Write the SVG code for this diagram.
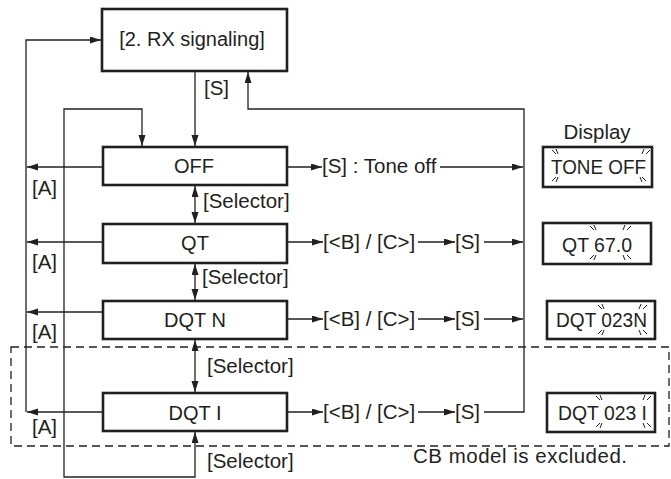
<svg xmlns="http://www.w3.org/2000/svg" width="671" height="479" viewBox="0 0 671 479">
<style>
text{font-family:"Liberation Sans",Arial,Helvetica,sans-serif;fill:#231f20}
.node rect{fill:#fff;stroke:#231f20;stroke-width:2.6}
.nt{font-size:20px;text-anchor:middle}
.lb{font-size:20.5px}
.ln{fill:none;stroke:#231f20;stroke-width:1.3}
.ar{marker-end:url(#ah)}
.da{marker-start:url(#ah);marker-end:url(#ah)}
.disp rect{fill:#fff;stroke:#231f20;stroke-width:2.6}
.dt{font-size:21px}
.bl{fill:none;stroke:#231f20;stroke-width:1}
</style>
<defs>
<marker id="ah" markerUnits="userSpaceOnUse" markerWidth="12" markerHeight="8" refX="11" refY="3.5" orient="auto-start-reverse">
<path d="M0,0 L11,3.5 L0,7 z" fill="#231f20"/>
</marker>
</defs>
<rect x="11" y="347" width="658" height="99" fill="none" stroke="#231f20" stroke-width="1.3" stroke-dasharray="8 5"/>
<g id="connectors">
<path class="ln ar" d="M26,412 V40 H101"/>
<path class="ln ar" d="M102,167 H27"/>
<path class="ln ar" d="M102,242 H27"/>
<path class="ln ar" d="M102,312 H27"/>
<path class="ln ar" d="M102,412 H27"/>
<path class="ln ar" d="M195,71 V146"/>
<path class="ln da" d="M195,432 V477 H64 V109 H142 V146"/>
<path class="ln da" d="M195,186 V223"/>
<path class="ln da" d="M195,264 V300"/>
<path class="ln da" d="M195,340 V392"/>
<path class="ln ar" d="M484,412 H524 V109 H248 V72"/>
<path class="ln ar" d="M288,167 H322"/>
<path class="ln ar" d="M440,167 H523"/>
<path class="ln ar" d="M288,242 H323"/>
<path class="ln ar" d="M418,242 H455"/>
<path class="ln ar" d="M484,242 H523"/>
<path class="ln ar" d="M288,319 H323"/>
<path class="ln ar" d="M418,319 H455"/>
<path class="ln ar" d="M484,319 H523"/>
<path class="ln ar" d="M288,412 H323"/>
<path class="ln ar" d="M418,412 H455"/>
<text class="lb" x="204" y="95">[S]</text>
<text class="lb" x="32" y="195">[A]</text>
<text class="lb" x="32" y="269">[A]</text>
<text class="lb" x="32" y="339">[A]</text>
<text class="lb" x="32" y="434">[A]</text>
<text class="lb" x="203" y="208">[Selector]</text>
<text class="lb" x="202" y="284">[Selector]</text>
<text class="lb" x="207" y="373">[Selector]</text>
<text class="lb" x="207" y="468">[Selector]</text>
<text class="lb" x="322" y="173">[S] : Tone off</text>
<text class="lb" x="323" y="249">[&lt;B] / [C&gt;]</text>
<text class="lb" x="455" y="249">[S]</text>
<text class="lb" x="323" y="326">[&lt;B] / [C&gt;]</text>
<text class="lb" x="455" y="326">[S]</text>
<text class="lb" x="323" y="419">[&lt;B] / [C&gt;]</text>
<text class="lb" x="455" y="419">[S]</text>
</g>
<g id="n-rx" class="node"><rect x="102" y="9" width="185" height="62"/><text class="nt" x="192" y="46">[2. RX signaling]</text></g>
<g id="n-off" class="node"><rect x="103" y="147" width="184" height="38"/><text class="nt" x="194" y="173">OFF</text></g>
<g id="n-qt" class="node"><rect x="103" y="224" width="184" height="39"/><text class="nt" x="195" y="250">QT</text></g>
<g id="n-dqtn" class="node"><rect x="103" y="301" width="184" height="38"/><text class="nt" x="195" y="327">DQT N</text></g>
<g id="n-dqti" class="node"><rect x="103" y="393" width="184" height="38"/><text class="nt" x="195" y="420">DQT I</text></g>
<text class="lb" x="597" y="139" text-anchor="middle">Display</text>
<g id="d-toneoff" class="disp"><rect x="543" y="147" width="109" height="40"/>
<text class="dt" x="551" y="174" textLength="95" lengthAdjust="spacingAndGlyphs">TONE OFF</text>
<path class="bl" d="M552,150 l4,4 M556,149 l2,5 M646,154 l4,-4 M642,154 l2,-5 M552,181 l4,-4 M556,182 l2,-5 M642,177 l4,4 M640,177 l2,5"/>
</g>
<g id="d-qt" class="disp"><rect x="543" y="223" width="108" height="41"/>
<text class="dt" x="562" y="252" textLength="70" lengthAdjust="spacingAndGlyphs">QT 67.0</text>
<path class="bl" d="M590,226 l4,4 M594,225 l2,5 M627,230 l4,-4 M623,230 l2,-5 M590,259 l4,-4 M594,260 l2,-5 M627,255 l4,4 M623,255 l2,5"/>
</g>
<g id="d-dqtn" class="disp"><rect x="547" y="301" width="108" height="38"/>
<text class="dt" x="556" y="327" textLength="91" lengthAdjust="spacingAndGlyphs">DQT 023N</text>
<path class="bl" d="M598,305 l4,4 M602,304 l2,5 M643,309 l4,-4 M639,309 l2,-5 M598,334 l4,-4 M602,335 l2,-5 M643,330 l4,4 M639,330 l2,5"/>
</g>
<g id="d-dqti" class="disp"><rect x="547" y="393" width="108" height="39"/>
<text class="dt" x="558" y="420" textLength="89" lengthAdjust="spacingAndGlyphs">DQT 023 I</text>
<path class="bl" d="M596,396 l4,4 M600,395 l2,5 M647,400 l4,-4 M643,400 l2,-5 M596,427 l4,-4 M600,428 l2,-5 M647,423 l4,4 M643,423 l2,5"/>
</g>
<text class="lb" x="413" y="463" textLength="214">CB model is excluded.</text>
</svg>
